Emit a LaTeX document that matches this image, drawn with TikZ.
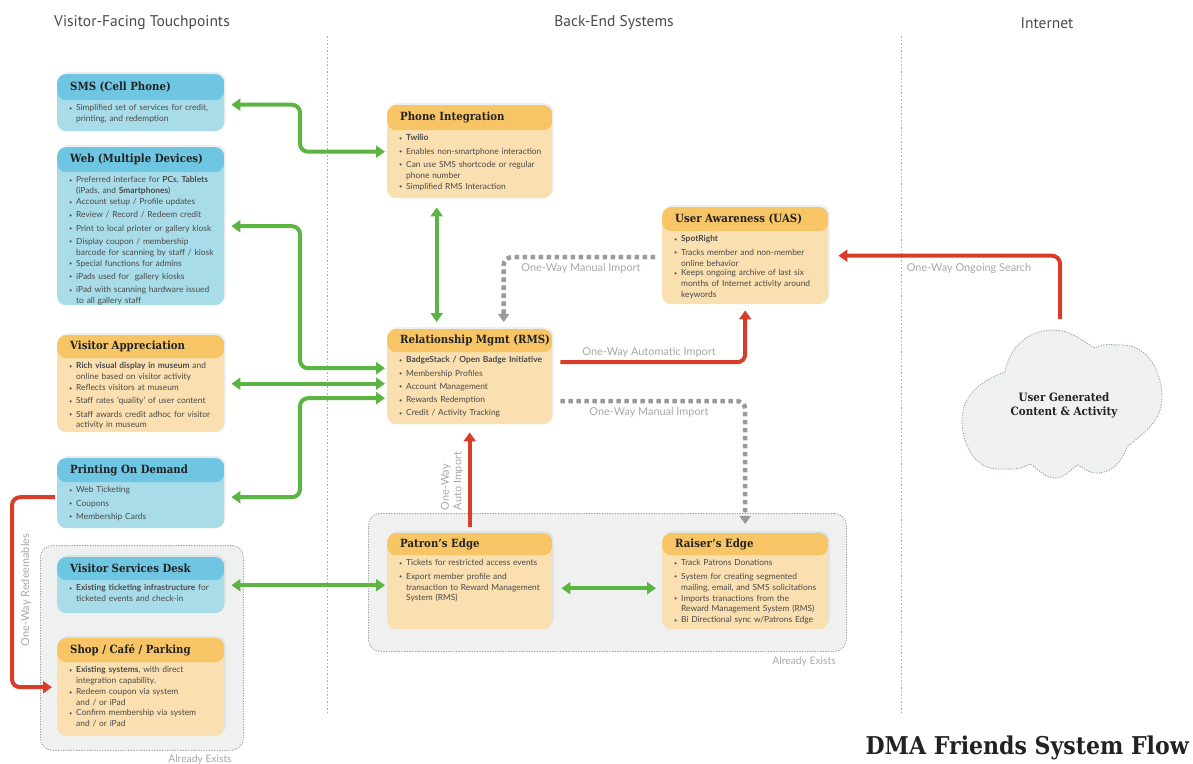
\documentclass[tikz,border=0pt]{standalone}
\usepackage{fontspec}
\setmainfont{Lato}
\newfontfamily\slab{DejaVu Serif}[FakeStretch=0.9]
\newfontfamily\hdrfont{PT Sans}
\usetikzlibrary{arrows.meta,shadows,calc}
\definecolor{bhead}{HTML}{6EC6E3}
\definecolor{bbody}{HTML}{A8DCE9}
\definecolor{ohead}{HTML}{F7C566}
\definecolor{obody}{HTML}{FADFB0}
\definecolor{grpfill}{HTML}{EFF0F0}
\definecolor{grn}{HTML}{5CB543}
\definecolor{rd}{HTML}{D83D2A}
\definecolor{gry}{HTML}{9A9A9A}
\definecolor{lblc}{HTML}{A8A8A8}
\definecolor{txt}{HTML}{4A4A4A}
\definecolor{ttl}{HTML}{222222}
\newcommand\bl[1]{\par\vspace{2.3pt}\noindent\makebox[7pt][l]{\raisebox{0.5pt}{\fontsize{5.5}{5.5}\selectfont\textbullet}}%
  \parbox[t]{\dimexpr\linewidth-7pt\relax}{\raggedright #1}}
\tikzset{
  cardbox/.style={rectangle, rounded corners=9, anchor=north west, inner sep=0, draw=none,
    drop shadow={opacity=0.13, shadow xshift=1.5, shadow yshift=-2}},
  cardtitle/.style={anchor=west, inner sep=0, text=ttl, font=\slab\bfseries\fontsize{11.3}{13}\selectfont},
  cardbody/.style={anchor=north west, inner sep=0, text width=150, align=left, text=txt,
    font=\fontsize{8.4}{10.9}\selectfont},
  group/.style={rectangle, anchor=north west, rounded corners=12, fill=grpfill, draw=gry,
    line width=0.8, dash pattern=on 1.2 off 1.4, inner sep=0},
  divider/.style={draw=gry!80, line width=0.7, dash pattern=on 1.5 off 2},
  garr/.style={draw=grn, line width=4, {Triangle[width=12pt,length=9pt]}-{Triangle[width=12pt,length=9pt]}, rounded corners=8},
  rarr/.style={draw=rd, line width=4, -{Triangle[width=12pt,length=9pt]}, rounded corners=8},
  darr/.style={draw=gry, line width=4.5, dash pattern=on 4.5 off 3.5, -{Triangle[width=11pt,length=8pt]}, rounded corners=8},
  lbl/.style={text=lblc, inner sep=0, font=\fontsize{10.9}{12.5}\selectfont},
  colhdr/.style={text=txt, inner sep=0, font=\hdrfont\fontsize{15.5}{17}\selectfont},
  exists/.style={text=lblc, inner sep=0, font=\fontsize{10.3}{11}\selectfont},
}
\newcommand\card[9]{%
  \node[cardbox, fill=#7body, minimum width=#4, minimum height=#5,
    path picture={\fill[#7head] (path picture bounding box.north west) rectangle ([yshift=-#6]path picture bounding box.north east);}] (#1) at (#2,#3) {};
  \node[cardtitle] (#1-t) at ([xshift=13,yshift=-#6/2]#1.north west) {#8};
  \node[cardbody] (#1-b) at ([xshift=12,yshift=-#6+2.5]#1.north west) {#9};
}
\begin{document}
\begin{tikzpicture}[x=1pt,y=-1pt]
\useasboundingbox (0,0) rectangle (1193,763);
\fill[white] (0,0) rectangle (1193,763);
% column headers
\node[colhdr] (h1) at (142,23) {Visitor-Facing Touchpoints};
\node[colhdr] (h2) at (614,23) {Back-End Systems};
\node[colhdr] (h3) at (1047,23) {Internet};
\draw[divider] (327,36) -- (327,712);
\draw[divider] (901,36) -- (901,712);
% groups
\node[group, minimum width=203, minimum height=205] (grpL) at (40,545) {};
\node[group, minimum width=478, minimum height=138] (grpR) at (368,513) {};
\node[exists, anchor=east] (exR) at (836,662) {Already Exists};
\node[exists] (exL) at (200,760) {Already Exists};
% cloud
\draw[fill=grpfill, draw=gry, line width=0.8, dash pattern=on 1.2 off 1.4]
  (1005,372) to[out=80,in=180] (1053,330) to[out=0,in=150] (1095,348)
  to[out=30,in=180] (1122,345) to[out=0,in=90] (1162,397)
  to[out=-90,in=40] (1127,447) to[out=-110,in=0] (1097,473)
  to[out=180,in=-30] (1078,465) to[out=-150,in=0] (1055,478)
  to[out=180,in=-30] (1030,464) to[out=-150,in=0] (998,469)
  to[out=180,in=-90] (962,420) to[out=90,in=200] (1005,372) -- cycle;
\node[text=ttl, inner sep=0, align=center, font=\slab\bfseries\fontsize{11.5}{14}\selectfont] (cloud) at (1064,405) {User Generated\\Content \& Activity};
\coordinate (cloudtop) at (1060,319);
\coordinate (redl) at (12,590);
% cards
\card{sms}{57}{74}{167}{57}{26}{b}{SMS (Cell Phone)}{%
  \bl{Simplified set of services for credit,\\printing, and redemption}}
\card{web}{57}{147}{167}{158}{25}{b}{Web (Multiple Devices)}{%
  \bl{Preferred interface for \textbf{PCs}, \textbf{Tablets}\\(iPads, and \textbf{Smartphones})}
  \bl{Account setup / Profile updates}
  \bl{Review / Record / Redeem credit}
  \bl{Print to local printer or gallery kiosk}
  \bl{Display coupon / membership\\barcode for scanning by staff / kiosk}
  \bl{Special functions for admins}
  \bl{iPads used for\ \ gallery kiosks}
  \bl{iPad with scanning hardware issued\\to all gallery staff}}
\card{va}{57}{335}{167}{97}{23}{o}{Visitor Appreciation}{%
  \bl{\textbf{Rich visual display in museum} and\\online based on visitor activity}
  \bl{Reflects visitors at museum}
  \bl{Staff rates ‘quality’ of user content}
  \bl{Staff awards credit adhoc for visitor\\activity in museum}}
\card{pod}{57}{458}{167}{70}{24}{b}{Printing On Demand}{%
  \bl{Web Ticketing}
  \bl{Coupons}
  \bl{Membership Cards}}
\card{vsd}{57}{557}{167}{56}{23}{b}{Visitor Services Desk}{%
  \bl{\textbf{Existing ticketing infrastructure} for\\ticketed events and check-in}}
\card{shop}{57}{638}{167}{98}{24}{o}{Shop / Café / Parking}{%
  \bl{\textbf{Existing systems}, with direct\\integration capability.}
  \bl{Redeem coupon via system\\and / or iPad}
  \bl{Confirm membership via system\\and / or iPad}}
\card{phone}{387}{105}{165}{93}{25}{o}{Phone Integration}{%
  \bl{\textbf{Twilio}}
  \bl{Enables non-smartphone interaction}
  \bl{Can use SMS shortcode or regular\\phone number}
  \bl{Simplified RMS Interaction}}
\card{rms}{387}{329}{165}{95}{23}{o}{Relationship Mgmt (RMS)}{%
  \bl{\textbf{BadgeStack / Open Badge Initiative}}
  \bl{Membership Profiles}
  \bl{Account Management}
  \bl{Rewards Redemption}
  \bl{Credit / Activity Tracking}}
\card{uas}{662}{207}{166}{97}{24}{o}{User Awareness (UAS)}{%
  \bl{\textbf{SpotRight}}
  \bl{Tracks member and non-member\\online behavior}
  \bl{Keeps ongoing archive of last six\\months of Internet activity around\\keywords}}
\card{pe}{387}{533}{165}{96}{22}{o}{Patron’s Edge}{%
  \bl{Tickets for restricted access events}
  \bl{Export member profile and\\transaction to Reward Management\\System (RMS)}}
\card{re}{662}{533}{166}{96}{22}{o}{Raiser’s Edge}{%
  \bl{Track Patrons Donations}
  \bl{System for creating segmented\\mailing, email, and SMS solicitations}
  \bl{Imports tranactions from the\\Reward Management System (RMS)}
  \bl{Bi Directional sync w/Patrons Edge}}
% green connectors
\draw[garr] ([xshift=7,yshift=-2]sms.east) -| ([xshift=-87]phone.west) -- ([xshift=-2]phone.west);
\draw[garr] ([xshift=7]web.east) -| ([xshift=-87,yshift=8.5]rms.west) -- ([xshift=-2,yshift=8.5]rms.west);
\draw[garr] ([xshift=7]va.east) -- ([xshift=-2]rms.west |- va.east);
\draw[garr] ([xshift=7,yshift=-4]pod.east) -| ([xshift=-87,yshift=-21.5]rms.west) -- ([xshift=-2,yshift=-21.5]rms.west);
\draw[garr] ([xshift=-33,yshift=-9]phone.south) -- ([xshift=-33,yshift=7]rms.north);
\draw[garr] ([xshift=7]vsd.east) -- ([xshift=-2]pe.west |- vsd.east);
\draw[garr] ([xshift=9,yshift=-7]pe.east) -- ([xshift=-6,yshift=-7]re.west);
% red connectors
\draw[rarr] ([xshift=8,yshift=14.5]rms.east) -| ([yshift=-6]uas.south);
\draw[rarr] ([yshift=6]pe.north) -- ([yshift=-8]rms.south);
\draw[rarr] (cloudtop) |- ([xshift=10]uas.east);
\draw[rarr] ([xshift=-2,yshift=-4]pod.west) -| (redl) |- ([xshift=-5]shop.west);
% gray dashed connectors
\draw[darr] ([xshift=-7,yshift=-1.5]uas.west) -| ([xshift=34,yshift=7]rms.north);
\draw[darr] ([xshift=8,yshift=-24.5]rms.east) -| ([yshift=9]re.north);
% labels
\node[lbl] (l1) at (581,268) {One-Way Manual Import};
\node[lbl] (l2) at (649,352) {One-Way Automatic Import};
\node[lbl] (l3) at (649,412) {One-Way Manual Import};
\node[lbl] (l4) at (969,268) {One-Way Ongoing Search};
\node[lbl, rotate=90, align=left] (l5) at (452,481) {One-Way\\Auto Import};
\node[lbl, rotate=90] (l6) at (26,590) {One-Way Redeemables};
% title
\node[anchor=east, inner sep=0, text=ttl, font=\slab\bfseries\fontsize{24.5}{28}\selectfont] (title) at (1189,748) {DMA Friends System Flow};
\end{tikzpicture}
\end{document}
